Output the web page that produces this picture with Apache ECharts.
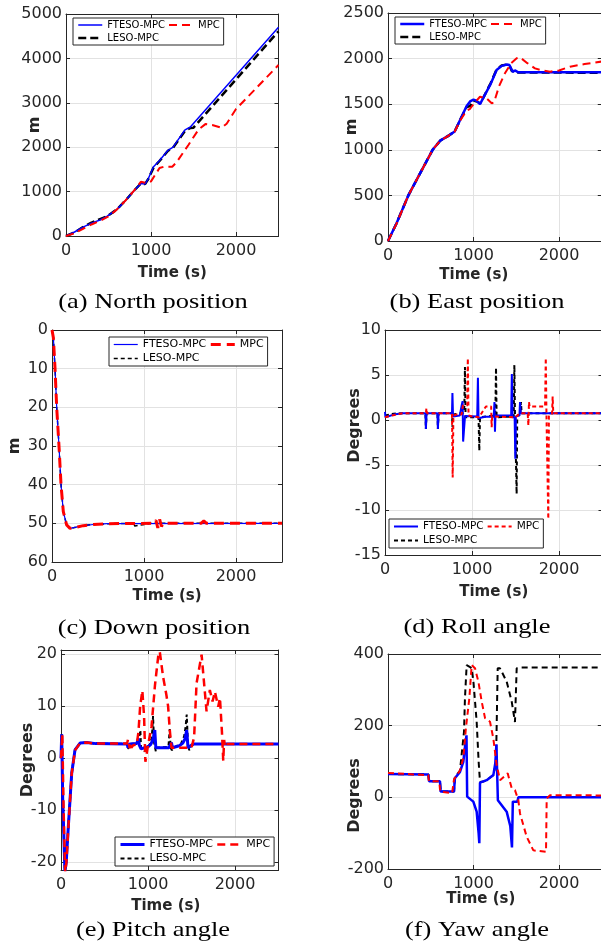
<!DOCTYPE html>
<html><head><meta charset="utf-8">
<script src="https://cdn.jsdelivr.net/npm/echarts@6/dist/echarts.min.js"></script>
<style>html,body{margin:0;padding:0;background:#fff}#c{width:601px;height:947px}</style>
</head><body><div id="c"></div>
<script>
// ---------- tick labels ----------
const timeTicks = [0, 1000, 2000];
const northTicks = [0, 1000, 2000, 3000, 4000, 5000];
const eastTicks = [0, 500, 1000, 1500, 2000, 2500];
const downTicks = [0, 10, 20, 30, 40, 50, 60];
const rollTicks = [-15, -10, -5, 0, 5, 10];
const pitchTicks = [-20, -10, 0, 10, 20];
const yawTicks = [-200, 0, 200, 400];
const seriesNames = ['FTESO-MPC', 'MPC', 'LESO-MPC'];
const captions = ['(a) North position', '(b) East position', '(c) Down position', '(d) Roll angle', '(e) Pitch angle', '(f) Yaw angle'];
const yNames = ['m', 'm', 'm', 'Degrees', 'Degrees', 'Degrees'];

// ---------- (a) North position ----------
const northFTESO = [[0,0],[100,90],[200,200],[300,290],[400,360],[480,440],[600,600],[700,800],[800,1020],[880,1180],[930,1170],[970,1300],[1030,1560],[1100,1700],[1200,1930],[1260,2000],[1320,2170],[1400,2390],[1460,2450],[2500,4700]];
const northMPC = [[0,0],[100,60],[200,160],[300,260],[400,340],[500,440],[600,600],[700,800],[800,1020],[880,1220],[950,1190],[1000,1230],[1100,1530],[1150,1560],[1250,1560],[1300,1660],[1440,2050],[1560,2400],[1640,2520],[1720,2500],[1830,2440],[1890,2530],[2000,2860],[2500,3850]];
const northLESO = [[0,0],[100,80],[200,200],[300,300],[400,380],[480,440],[600,600],[700,800],[800,1020],[880,1180],[930,1170],[970,1290],[1030,1540],[1100,1690],[1200,1920],[1260,1990],[1320,2150],[1400,2370],[1460,2430],[1500,2440],[2500,4610]];

// ---------- (b) East position ----------
const eastFTESO = [[0,0],[100,195],[238,500],[400,785],[522,1000],[610,1100],[700,1150],[780,1200],[850,1340],[920,1480],[960,1530],[1000,1550],[1040,1535],[1076,1500],[1120,1580],[1200,1720],[1270,1875],[1330,1920],[1390,1935],[1420,1930],[1458,1855],[1485,1870],[1524,1850],[2500,1850]];
const eastMPC = [[0,0],[100,190],[238,500],[400,785],[522,1000],[610,1100],[700,1150],[780,1200],[850,1330],[920,1430],[960,1450],[1000,1500],[1076,1582],[1154,1564],[1213,1510],[1240,1520],[1300,1700],[1368,1840],[1440,1950],[1505,2003],[1544,2014],[1630,1950],[1719,1893],[1800,1870],[1895,1857],[2000,1870],[2129,1911],[2300,1940],[2500,1968]];
const eastLESO = [[0,0],[100,195],[238,500],[400,785],[522,1000],[610,1100],[700,1150],[780,1200],[850,1340],[920,1470],[960,1480],[1000,1540],[1040,1530],[1076,1510],[1120,1580],[1200,1730],[1270,1880],[1330,1925],[1390,1935],[1420,1925],[1450,1860],[1490,1868],[1520,1848],[2500,1845]];

// ---------- (c) Down position ----------
const downFTESO = [[0,0],[15,2],[33,10],[51,20],[76,30],[98,40],[123,47],[159,50.4],[196,51.3],[260,51],[340,50.6],[450,50.3],[600,50.1],[2500,50]];
const downMPC = [[0,0],[15,2],[33,10],[51,20],[76,30],[98,40],[123,47],[159,50.4],[196,51.3],[260,51],[340,50.6],[450,50.3],[600,50.1],[1100,50],[1130,49.2],[1150,51.2],[1170,49],[1190,50.8],[1210,50],[1620,50],[1650,49.4],[1680,50],[1810,50],[1830,50.5],[1850,50],[2500,50]];
const downLESO = [[0,0],[15,2],[33,10],[51,20],[76,30],[98,40],[123,47],[159,50.4],[196,51.3],[260,51],[340,50.6],[450,50.3],[600,50.1],[880,50],[900,50.7],[920,50.2],[1080,50],[1100,50.4],[1120,50],[2500,50]];

// ---------- (d) Roll angle ----------
const rollFTESO = [[0,0.9],[5,0.3],[100,0.6],[200,0.75],[465,0.75],[470,-1.0],[478,0.75],[603,0.75],[608,-1.0],[616,0.75],[770,0.75],[775,3.0],[782,0.4],[860,0.5],[885,1.8],[892,2.1],[898,-2.4],[905,-1.5],[920,0.45],[1060,0.4],[1068,4.7],[1075,0.2],[1150,0.35],[1250,0.4],[1258,2.0],[1264,-1.3],[1270,0.5],[1450,0.5],[1458,5.1],[1466,0.3],[1490,0.3],[1498,-4.3],[1504,0.4],[1545,0.5],[1552,2.0],[1560,0.75],[2500,0.75]];
const rollMPC = [[0,0.3],[80,0.5],[200,0.75],[470,0.75],[476,1.3],[482,0.75],[770,0.75],[778,-6.4],[786,0.5],[820,0.6],[880,0.6],[895,1.6],[945,1.6],[952,6.85],[960,0.5],[1000,0.4],[1080,0.3],[1100,0.6],[1160,1.5],[1220,1.5],[1226,-0.8],[1232,0.4],[1500,0.3],[1550,0.75],[1640,0.75],[1648,-0.6],[1655,2.0],[1662,1.5],[1840,1.5],[1848,6.9],[1856,0.5],[1870,0.5],[1877,-11],[1884,0.5],[1920,0.7],[1927,2.6],[1934,0.75],[2500,0.75]];
const rollLESO = [[0,0.5],[100,0.7],[200,0.75],[465,0.75],[470,-1.0],[478,0.75],[603,0.75],[608,-1.0],[616,0.75],[770,0.75],[776,-0.8],[782,0.6],[900,0.8],[912,1.5],[919,5.9],[926,0.3],[1075,0.3],[1084,-3.4],[1092,0.3],[1268,0.5],[1276,5.8],[1283,0.3],[1480,0.4],[1487,6.1],[1494,0.5],[1506,0.4],[1513,-8.2],[1520,0.5],[1555,0.6],[1563,2.0],[1570,0.75],[2500,0.75]];

// ---------- (e) Pitch angle ----------
const pitchFTESO = [[0,0],[8,4.6],[20,-8],[45,-21.7],[60,-20],[84,-13.2],[123,-2.9],[161,1.6],[219,2.9],[296,3.0],[400,2.8],[760,2.75],[770,2.0],[790,2.75],[870,2.8],[890,3.8],[900,2.5],[920,1.8],[960,2.0],[1000,2.2],[1030,2.6],[1050,3.3],[1065,4.2],[1078,5.4],[1090,2.0],[1240,2.0],[1260,2.2],[1270,3.0],[1280,2.0],[1300,2.0],[1360,2.4],[1400,2.9],[1425,3.7],[1445,5.4],[1460,2.0],[1480,1.8],[1500,2.5],[1530,2.75],[2500,2.75]];
const pitchMPC = [[0,0],[15,4.7],[30,-10],[48,-22],[62,-20],[84,-13.5],[123,-3],[161,1.5],[219,2.9],[296,3.0],[400,2.8],[760,2.8],[770,3.6],[790,1.9],[800,3.0],[808,2.0],[830,2.5],[870,2.6],[890,5],[910,10],[935,13],[955,8],[970,-0.7],[1000,2.5],[1040,6],[1080,14],[1120,20],[1135,20.5],[1173,15.7],[1211,12.2],[1231,10],[1250,5.5],[1270,2.0],[1500,2.0],[1530,4],[1558,14.4],[1616,19.9],[1673,9.0],[1711,13.1],[1742,10.9],[1769,12.8],[1807,9.9],[1827,11.6],[1850,5],[1865,-0.5],[1875,3.5],[1885,2.2],[1900,2.75],[2500,2.75]];
const pitchLESO = [[0,0],[8,4.6],[20,-8],[45,-21.7],[60,-20],[84,-13.2],[123,-2.9],[161,1.6],[219,2.9],[296,3.0],[400,2.8],[760,2.75],[770,1.8],[790,2.75],[880,2.8],[900,4.0],[912,5.4],[920,2.0],[962,1.3],[975,2.0],[1020,2.6],[1040,3.8],[1050,5.5],[1058,8.1],[1070,3.0],[1090,1.3],[1100,2.0],[1235,2.2],[1250,5.6],[1260,2.0],[1275,1.5],[1290,2.0],[1380,2.8],[1415,4.2],[1432,6.0],[1445,8.4],[1460,2.5],[1475,1.5],[1500,2.5],[1530,2.75],[2500,2.75]];

// ---------- (f) Yaw angle ----------
const yawFTESO = [[0,65],[472,64],[480,45],[608,45],[616,16],[772,16],[782,53],[842,71],[881,99],[905,150],[918,173],[926,2],[998,-12],[1037,-40],[1060,-100],[1068,-128],[1076,41],[1154,48],[1232,62],[1255,95],[1268,148],[1285,-8],[1388,-40],[1430,-80],[1450,-140],[1460,-12],[1513,-12],[1525,0],[2500,0]];
const yawMPC = [[0,68],[300,64],[470,62],[480,45],[600,45],[610,16],[750,12],[760,8],[772,50],[842,75],[881,110],[910,190],[920,211],[951,276],[979,369],[1018,360],[1057,323],[1096,267],[1135,221],[1193,211],[1232,164],[1271,90],[1310,48],[1368,60],[1400,67],[1447,25],[1485,20],[1524,-7],[1544,-45],[1622,-110],[1700,-148],[1848,-152],[1856,-3],[1895,6],[2300,6],[2500,5]];
const yawLESO = [[0,65],[472,64],[480,45],[608,45],[616,16],[772,16],[782,55],[842,75],[889,183],[900,276],[920,369],[950,365],[979,360],[1000,320],[1037,211],[1060,100],[1076,43],[1115,44],[1154,48],[1232,62],[1263,95],[1283,360],[1310,360],[1388,323],[1447,267],[1485,210],[1505,360],[1563,362],[2500,362]];

// ---------- layout / style per panel ----------
const panels = [
  {g:[66,14,212.5,222], y:[0,5000,1000], yt:northTicks, data:[northFTESO,northMPC,northLESO],
   w:[1.5,2,2.5], dash:[[8,5],[8,4]], yGap:23, yPad:0, xGap:30, xPad:0,
   leg:{left:73, top:18, fs:10}, cap:[153,302]},
  {g:[388,13,213.75,228], y:[0,2500,500], yt:eastTicks, data:[eastFTESO,eastMPC,eastLESO],
   w:[2.5,2,2.5], dash:[[8,5],[8,4]], yGap:28, yPad:0, xGap:27, xPad:-21,
   leg:{left:395, top:17, fs:10}, cap:[477,302]},
  {g:[52,330,230,232], y:[0,60,10], yt:downTicks, inv:true, data:[downFTESO,downMPC,downLESO],
   w:[1.2,3,1.5], dash:[[10,6],[4,3]], yGap:29, yPad:0, xGap:27, xPad:0,
   leg:{left:109, top:337, fs:11}, cap:[154,628]},
  {g:[385,330,217.5,225], y:[-15,10,5], yt:rollTicks, data:[rollFTESO,rollMPC,rollLESO],
   w:[2,2,2], dash:[[4,3],[4,3]], yGap:22, yPad:17, xGap:30, xPad:0,
   leg:{left:389, top:519, fs:10.5}, cap:[477,627]},
  {g:[61,650,217.5,220], y:[-21.5,20.8,null], yt:pitchTicks, data:[pitchFTESO,pitchMPC,pitchLESO],
   w:[3,2.5,2], dash:[[8,5],[4,3]], yGap:25, yPad:0, xGap:29, xPad:-4,
   leg:{left:115, top:837, fs:11}, cap:[153,930]},
  {g:[388,654,213.75,215], y:[-200,400,200], yt:yawTicks, data:[yawFTESO,yawMPC,yawLESO],
   w:[2.5,2,2], dash:[[6,4],[6,4]], yGap:25, yPad:-34, xGap:23, xPad:-14,
   leg:null, cap:[477,930]}
];

const AX = '#262626', GRIDC = '#e2e2e2', SANS = 'DejaVu Sans';
const colors = ['#0000ff', '#ff0000', '#000000'];
const grids = [], xAxes = [], yAxes = [], xMir = [], yMir = [], series = [], legends = [], graphics = [];

panels.forEach((p, i) => {
  grids.push({left:p.g[0], top:p.g[1], width:p.g[2], height:p.g[3], containLabel:false, outerBoundsMode:'none', show:false});
  const axLine = {show:true, onZero:false, lineStyle:{color:AX, width:1}};
  const tick = {show:true, inside:true, length:4, lineStyle:{color:AX}};
  xAxes.push({type:'value', gridIndex:i, min:0, max:2500, interval:1000,
    axisLine:axLine, axisTick:tick,
    splitLine:{show:true, lineStyle:{color:GRIDC, width:1}},
    axisLabel:{margin:7, color:AX, fontFamily:SANS, fontSize:16,
      formatter:v => timeTicks.includes(v) ? String(v) : ''},
    name:'Time (s)', nameLocation:'middle', nameGap:p.xGap, nameMoveOverlap:false,
    nameTextStyle:{fontFamily:SANS, fontWeight:'bold', fontSize:15, color:AX,
      padding: p.xPad < 0 ? [0, -2*p.xPad, 0, 0] : [0, 0, 0, 2*p.xPad]}});
  xMir.push({type:'value', gridIndex:i, position:'top', min:0, max:2500, interval:1000,
    axisLine:axLine, axisTick:tick, axisLabel:{show:false}, splitLine:{show:false}});
  const yBase = {type:'value', gridIndex:i, min:p.y[0], max:p.y[1], inverse:!!p.inv};
  if (p.y[2] !== null) yBase.interval = p.y[2];
  yAxes.push(Object.assign({}, yBase, {
    axisLine:axLine, axisTick:tick,
    splitLine:{show:true, lineStyle:{color:GRIDC, width:1}},
    axisLabel:{margin:4, color:AX, fontFamily:SANS, fontSize:16,
      formatter:v => p.yt.includes(v) ? String(v) : ''},
    name:yNames[i], nameLocation:'middle', nameGap:p.yGap, nameRotate:90, nameMoveOverlap:false,
    nameTextStyle:{fontFamily:SANS, fontWeight:'bold', fontSize:16, color:AX,
      padding: p.yPad > 0 ? [0, 0, 0, 2*p.yPad] : [0, -2*p.yPad, 0, 0]}}));
  yMir.push(Object.assign({}, yBase, {position:'right',
    axisLine:axLine, axisTick:tick, axisLabel:{show:false}, splitLine:{show:false}}));

  // draw order: LESO (bottom), FTESO, MPC (top)
  [2, 0, 1].forEach(k => {
    series.push({type:'line', name:seriesNames[k], xAxisIndex:i, yAxisIndex:i,
      data:p.data[k], showSymbol:false, symbol:'none', animation:false, silent:true,
      color:colors[k], itemStyle:{color:colors[k]},
      lineStyle:{color:colors[k], width:p.w[k], type: k === 0 ? 'solid' : p.dash[k-1], cap:'butt'},
      z: k === 1 ? 4 : (k === 0 ? 3 : 2)});
  });

  if (p.leg) {
    legends.push({left:p.leg.left, top:p.leg.top, orient:'horizontal', width:165,
      itemWidth:24, itemHeight:10, itemGap:3, padding:[2,4,2,4],
      borderColor:AX, borderWidth:1, borderRadius:0, backgroundColor:'#ffffff',
      selectedMode:false, z:10,
      itemStyle:{opacity:0, borderWidth:0},
      textStyle:{fontFamily:SANS, fontSize:p.leg.fs, color:'#000'},
      data: seriesNames.map((n, k) => ({name:n,
        itemStyle:{opacity:0, borderWidth:0},
        lineStyle:{color:colors[k], width:p.w[k], type: k === 0 ? 'solid' : p.dash[k-1], opacity:1}}))});
  }
  graphics.push({type:'text', x:p.cap[0], y:p.cap[1], scaleX:1.23,
    style:{text:captions[i], fontFamily:'Liberation Serif', fontSize:21.5, fill:'#000',
      align:'center', verticalAlign:'middle'}});
});

const chart = echarts.init(document.getElementById('c'), null, {renderer:'canvas', width:601, height:947});
chart.setOption({
  backgroundColor:'#ffffff',
  animation:false,
  grid:grids,
  xAxis:xAxes.concat(xMir),
  yAxis:yAxes.concat(yMir),
  legend:legends,
  series:series,
  graphic:graphics
});
</script></body></html>
